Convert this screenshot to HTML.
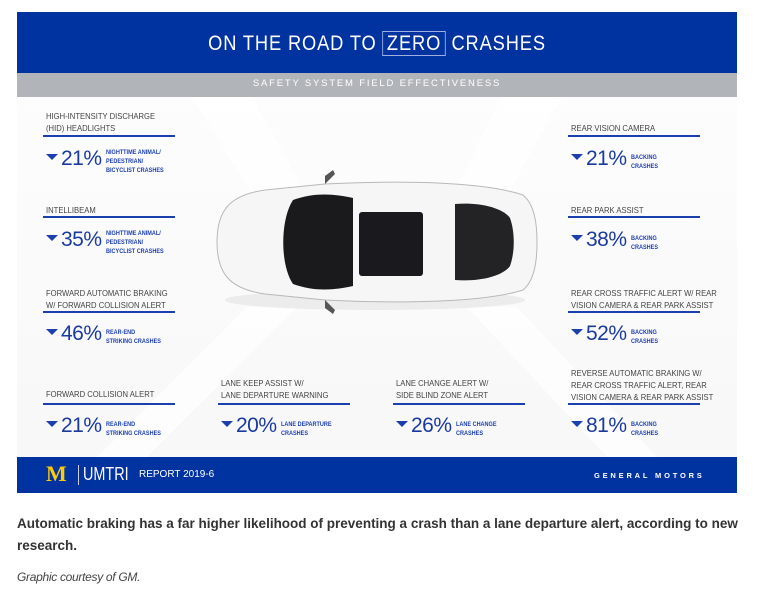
<!DOCTYPE html>
<html><head><meta charset="utf-8"><style>
*{margin:0;padding:0;box-sizing:border-box}
body{width:758px;height:591px;background:#fff;position:relative;overflow:hidden;font-family:"Liberation Sans",sans-serif}
.a{position:absolute;white-space:nowrap}
.t{font-size:8.5px;color:#444;line-height:12px;transform:scaleX(0.9);transform-origin:left}
.ln{position:absolute;height:2px;background:#1c3fae}
.p{font-size:21px;color:#1a3a9e;letter-spacing:-0.5px}
.tri{display:inline-block;width:0;height:0;border-left:6px solid transparent;border-right:6px solid transparent;border-top:6px solid #1c3fae;vertical-align:middle;margin-right:3px;position:relative;top:-2px}
.s{font-size:6.5px;color:#1c3fae;line-height:9px;font-weight:bold;transform:scaleX(0.85);transform-origin:left}
</style></head><body>
<div class="a" style="left:17px;top:12px;width:720px;height:481px;background:linear-gradient(#fefefe,#f7f7f8)"></div>
<svg class="a" style="left:17px;top:97px" width="720" height="360">
<polygon points="175,0 235,0 330,170 280,170" fill="#fff" opacity="0.7"/>
<polygon points="545,0 485,0 400,170 450,170" fill="#fff" opacity="0.7"/>
<polygon points="230,210 280,210 130,360 80,360" fill="#fff" opacity="0.7"/>
<polygon points="450,210 500,210 640,360 590,360" fill="#fff" opacity="0.7"/>
</svg>
<div class="a" style="left:17px;top:12px;width:720px;height:61px;background:#0033a0"></div>
<div class="a" style="left:17px;top:24px;width:720px;text-align:center;color:#fff;font-size:21px;letter-spacing:1px;line-height:40px;transform:scaleX(0.87)">ON THE ROAD TO <span style="border:1px solid #9fb0e0;padding:0 4px">ZERO</span> CRASHES</div>
<div class="a" style="left:17px;top:73px;width:720px;height:24px;background:#b1b5ba"></div>
<div class="a" style="left:17px;top:78px;width:720px;text-align:center;color:#fff;font-size:9.5px;letter-spacing:1.8px">SAFETY SYSTEM FIELD EFFECTIVENESS</div>

<svg class="a" style="left:205px;top:170px" width="340" height="145">
<ellipse cx="170" cy="130" rx="150" ry="10" fill="#ddd" opacity="0.5"/>
<path d="M12,72 C12,40 25,25 60,20 L120,14 C200,10 280,12 318,25 C330,35 332,55 332,72 C332,90 330,110 318,120 C280,132 200,134 120,130 L60,124 C25,119 12,104 12,72 Z" fill="#f6f6f6" stroke="#b8b8b8" stroke-width="1"/>
<path d="M88,30 C110,22 130,24 148,28 L148,116 C130,120 110,122 88,114 C75,95 75,50 88,30Z" fill="#1a1a1c"/>
<rect x="154" y="42" width="64" height="64" rx="3" fill="#1a1a1e"/>
<path d="M250,34 C275,32 298,38 305,48 C310,62 310,82 305,96 C298,106 275,112 250,110 Z" fill="#232326"/>
<path d="M120,6 L128,0 L130,4 L120,14 Z" fill="#555"/>
<path d="M120,138 L128,144 L130,140 L120,130 Z" fill="#555"/>
</svg>

<div class="a t" style="left:46px;top:110px">HIGH-INTENSITY DISCHARGE<br>(HID) HEADLIGHTS</div>
<div class="ln" style="left:43px;top:135px;width:132px"></div>
<div class="a p" style="left:46px;top:147px"><span class="tri"></span>21%</div>
<div class="a s" style="left:106px;top:148px">NIGHTTIME ANIMAL/<br>PEDESTRIAN/<br>BICYCLIST CRASHES</div>

<div class="a t" style="left:46px;top:204px">INTELLIBEAM</div>
<div class="ln" style="left:43px;top:216px;width:132px"></div>
<div class="a p" style="left:46px;top:228px"><span class="tri"></span>35%</div>
<div class="a s" style="left:106px;top:229px">NIGHTTIME ANIMAL/<br>PEDESTRIAN/<br>BICYCLIST CRASHES</div>

<div class="a t" style="left:46px;top:287px">FORWARD AUTOMATIC BRAKING<br>W/ FORWARD COLLISION ALERT</div>
<div class="ln" style="left:43px;top:311px;width:132px"></div>
<div class="a p" style="left:46px;top:322px"><span class="tri"></span>46%</div>
<div class="a s" style="left:106px;top:328px">REAR-END<br>STRIKING CRASHES</div>

<div class="a t" style="left:46px;top:388px">FORWARD COLLISION ALERT</div>
<div class="ln" style="left:43px;top:403px;width:132px"></div>
<div class="a p" style="left:46px;top:414px"><span class="tri"></span>21%</div>
<div class="a s" style="left:106px;top:420px">REAR-END<br>STRIKING CRASHES</div>

<div class="a t" style="left:221px;top:377px">LANE KEEP ASSIST W/<br>LANE DEPARTURE WARNING</div>
<div class="ln" style="left:218px;top:403px;width:132px"></div>
<div class="a p" style="left:221px;top:414px"><span class="tri"></span>20%</div>
<div class="a s" style="left:281px;top:420px">LANE DEPARTURE<br>CRASHES</div>

<div class="a t" style="left:396px;top:377px">LANE CHANGE ALERT W/<br>SIDE BLIND ZONE ALERT</div>
<div class="ln" style="left:393px;top:403px;width:132px"></div>
<div class="a p" style="left:396px;top:414px"><span class="tri"></span>26%</div>
<div class="a s" style="left:456px;top:420px">LANE CHANGE<br>CRASHES</div>

<div class="a t" style="left:571px;top:122px">REAR VISION CAMERA</div>
<div class="ln" style="left:568px;top:135px;width:132px"></div>
<div class="a p" style="left:571px;top:147px"><span class="tri"></span>21%</div>
<div class="a s" style="left:631px;top:153px">BACKING<br>CRASHES</div>

<div class="a t" style="left:571px;top:204px">REAR PARK ASSIST</div>
<div class="ln" style="left:568px;top:216px;width:132px"></div>
<div class="a p" style="left:571px;top:228px"><span class="tri"></span>38%</div>
<div class="a s" style="left:631px;top:234px">BACKING<br>CRASHES</div>

<div class="a t" style="left:571px;top:287px">REAR CROSS TRAFFIC ALERT W/ REAR<br>VISION CAMERA &amp; REAR PARK ASSIST</div>
<div class="ln" style="left:568px;top:311px;width:132px"></div>
<div class="a p" style="left:571px;top:322px"><span class="tri"></span>52%</div>
<div class="a s" style="left:631px;top:328px">BACKING<br>CRASHES</div>

<div class="a t" style="left:571px;top:367px">REVERSE AUTOMATIC BRAKING W/<br>REAR CROSS TRAFFIC ALERT, REAR<br>VISION CAMERA &amp; REAR PARK ASSIST</div>
<div class="ln" style="left:568px;top:403px;width:132px"></div>
<div class="a p" style="left:571px;top:414px"><span class="tri"></span>81%</div>
<div class="a s" style="left:631px;top:420px">BACKING<br>CRASHES</div>

<div class="a" style="left:17px;top:457px;width:720px;height:36px;background:#0033a0"></div>
<div class="a" style="left:46px;top:463px;color:#ffcb05;font-size:22px;font-weight:bold;font-family:'Liberation Serif',serif;line-height:22px">M</div>
<div class="a" style="left:78px;top:465px;width:1px;height:20px;background:#ccd"></div>
<div class="a" style="left:83px;top:463px;color:#fff;font-size:18px;line-height:22px;transform:scaleX(0.8);transform-origin:left">UMTRI</div>
<div class="a" style="left:139px;top:469px;color:#fff;font-size:10px">REPORT 2019-6</div>
<div class="a" style="left:594px;top:471px;color:#fff;font-size:7.5px;letter-spacing:2.8px;font-weight:bold">GENERAL MOTORS</div>

<div class="a" style="left:17px;top:513px;width:738px;white-space:normal;font-size:13.5px;font-weight:bold;color:#333;line-height:22px;letter-spacing:0px">Automatic braking has a far higher likelihood of preventing a crash than a lane departure alert, according to new research.</div>
<div class="a" style="left:17px;top:570px;font-size:12px;font-style:italic;color:#444;letter-spacing:-0.3px">Graphic courtesy of GM.</div>
</body></html>
